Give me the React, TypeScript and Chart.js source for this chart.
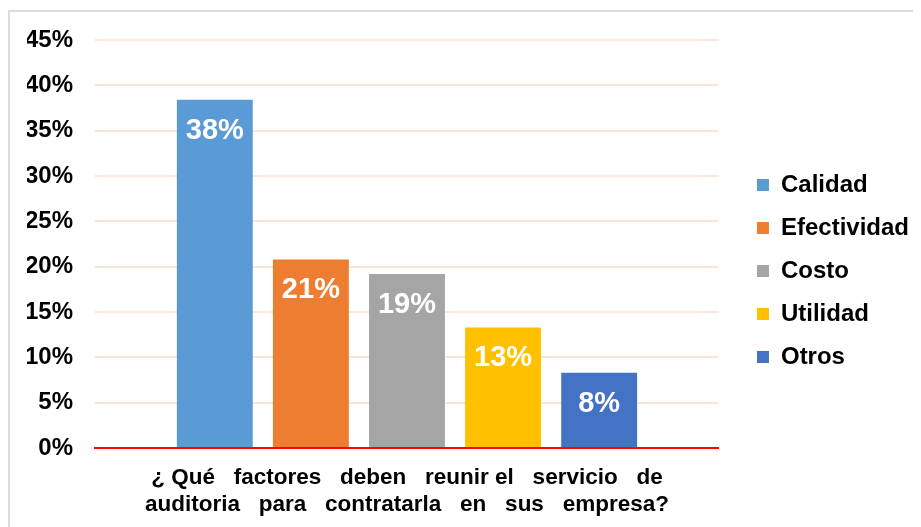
import React, { useEffect, useRef } from "react";
import { Chart, registerables } from "chart.js";

Chart.register(...registerables);

const categoryLabel = [
  "¿ Qué   factores   deben   reunir el   servicio   de",
  "auditoria   para   contratarla   en   sus   empresa?",
];
const seriesNames = ["Calidad", "Efectividad", "Costo", "Utilidad", "Otros"];
const seriesValues = [38.4, 20.8, 19.2, 13.3, 8.3];
const seriesColors = ["#5b9bd5", "#ed7d31", "#a5a5a5", "#ffc000", "#4472c4"];
const yTicks = [0, 5, 10, 15, 20, 25, 30, 35, 40, 45];

const FONT = "'Liberation Sans', Arial, sans-serif";

const valueLabels = {
  id: "valueLabels",
  afterDatasetsDraw(chart: any) {
    const ctx = chart.ctx;
    ctx.save();
    ctx.fillStyle = "#ffffff";
    ctx.font = `bold 29px ${FONT}`;
    ctx.textAlign = "center";
    ctx.textBaseline = "middle";
    chart.data.datasets.forEach((ds: any, i: number) => {
      const meta = chart.getDatasetMeta(i);
      if (meta.hidden) return;
      meta.data.forEach((el: any, j: number) => {
        const v = ds.data[j];
        ctx.fillText(Math.round(v) + "%", el.x, el.y + 31);
      });
    });
    ctx.restore();
  },
};

export default function App() {
  const ref = useRef<HTMLCanvasElement | null>(null);
  useEffect(() => {
    if (!ref.current) return;
    const chart = new Chart(ref.current, {
      type: "bar",
      data: {
        labels: [categoryLabel],
        datasets: seriesNames.map((name, i) => ({
          label: name,
          data: [seriesValues[i]],
          backgroundColor: seriesColors[i],
          borderWidth: 0,
          categoryPercentage: 0.77,
          barPercentage: 0.79,
        })),
      },
      options: {
        animation: false,
        responsive: true,
        maintainAspectRatio: false,
        layout: { padding: { left: 17, top: 12, right: 2, bottom: 9 } },
        plugins: {
          legend: {
            position: "right",
            labels: {
              boxWidth: 12,
              boxHeight: 12,
              padding: 19,
              color: "#000000",
              font: { family: FONT, size: 24, weight: "bold" },
            },
          },
          tooltip: { enabled: false },
        },
        scales: {
          x: {
            grid: { display: false },
            border: { color: "#ff0000", width: 2 },
            ticks: { display: false },
            title: {
              display: true,
              text: categoryLabel,
              color: "#000000",
              padding: { top: 8, bottom: 0 },
              font: { family: FONT, size: 22.5, weight: "bold", lineHeight: 1.2 },
            },
          },
          y: {
            min: 0,
            max: 45,
            afterBuildTicks: (s: any) => {
              s.ticks = yTicks.map((v) => ({ value: v }));
            },
            afterFit: (s: any) => {
              s.width = 68;
              s.paddingTop = 28;
            },
            grid: { color: "#fbe5d6", lineWidth: 2, drawTicks: false },
            border: { display: false },
            ticks: {
              color: "#000000",
              padding: 22,
              callback: (v: any) => v + "%",
              font: { family: FONT, size: 24, weight: "bold" },
            },
          },
          spacer: {
            position: "right",
            display: false,
            afterFit: (s: any) => {
              s.width = 19;
            },
          },
        },
      },
      plugins: [valueLabels],
    } as any);
    return () => chart.destroy();
  }, []);

  return (
    <div
      style={{
        marginTop: 2,
        width: 913,
        height: 517,
        borderTop: "2px solid #dcdcdc",
        borderLeft: "2px solid #dcdcdc",
        boxSizing: "border-box",
        position: "relative",
        background: "#ffffff",
      }}
    >
      <div style={{ position: "absolute", left: 0, top: 0, width: 911, height: 515 }}>
        <canvas ref={ref} />
      </div>
    </div>
  );
}
